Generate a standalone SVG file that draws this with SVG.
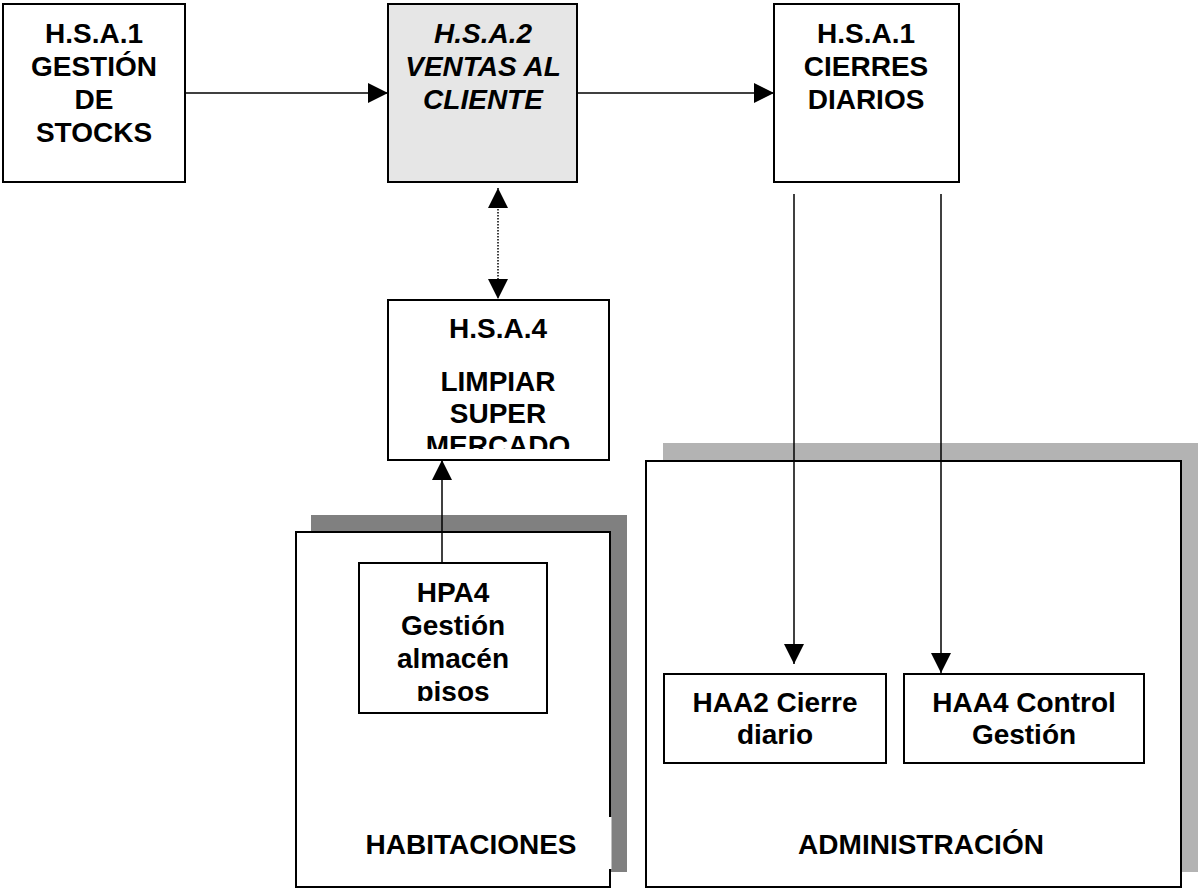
<svg xmlns="http://www.w3.org/2000/svg" width="1198" height="890" viewBox="0 0 1198 890">
<style>
.box{fill:#fff;stroke:#000;stroke-width:2}
.t{font-family:"Liberation Sans",Arial,sans-serif;font-weight:bold;font-size:28px;fill:#000;text-anchor:middle}
.it{font-style:italic}
.ln{stroke:#000;stroke-width:1.5;fill:none}
.dot{stroke:#000;stroke-width:1.5;fill:none;stroke-dasharray:1.5,1.5}
</style>
<defs>
<marker id="ah" viewBox="0 0 20 20" refX="20" refY="10" markerWidth="20" markerHeight="20" markerUnits="userSpaceOnUse" orient="auto-start-reverse">
<path d="M0,0 L20,10 L0,20 z" fill="#000"/>
</marker>
<clipPath id="c4"><rect x="389" y="301" width="219" height="148"/></clipPath>
<clipPath id="cp"><rect x="360" y="564" width="186" height="137"/></clipPath>
</defs>
<rect width="1198" height="890" fill="#fff"/>

<g id="habitaciones">
<rect x="311" y="515" width="316" height="357" fill="#808080"/>
<rect class="box" x="296" y="532" width="314" height="355"/>
<rect x="350" y="817" width="261.5" height="52" fill="#fff"/>
<text class="t" x="471" y="854">HABITACIONES</text>
</g>

<g id="administracion">
<rect x="663" y="443" width="535" height="429" fill="#b3b3b3"/>
<rect class="box" x="646" y="461" width="535" height="426"/>
<text class="t" x="921" y="854">ADMINISTRACIÓN</text>
</g>

<g id="hsa1-stocks">
<rect class="box" x="3" y="4" width="182" height="178"/>
<text class="t" x="94" y="43">H.S.A.1</text>
<text class="t" x="94" y="76">GESTIÓN</text>
<text class="t" x="94" y="109">DE</text>
<text class="t" x="94" y="142">STOCKS</text>
</g>

<g id="hsa2-ventas">
<rect class="box" x="388" y="4" width="189" height="178" style="fill:#e6e6e6"/>
<text class="t it" x="483" y="43">H.S.A.2</text>
<text class="t it" x="483" y="76">VENTAS AL</text>
<text class="t it" x="483" y="109">CLIENTE</text>
</g>

<g id="hsa1-cierres">
<rect class="box" x="774" y="4" width="185" height="178"/>
<text class="t" x="866" y="43">H.S.A.1</text>
<text class="t" x="866" y="76">CIERRES</text>
<text class="t" x="866" y="109">DIARIOS</text>
</g>

<g id="hsa4-limpiar">
<rect class="box" x="388" y="300" width="221" height="160"/>
<g clip-path="url(#c4)">
<text class="t" x="498" y="338">H.S.A.4</text>
<text class="t" x="498" y="391">LIMPIAR</text>
<text class="t" x="498" y="423">SUPER</text>
<text class="t" x="498" y="455">MERCADO</text>
</g>
</g>

<g id="hpa4">
<rect class="box" x="359" y="563" width="188" height="150"/>
<g clip-path="url(#cp)">
<text class="t" x="453" y="602">HPA4</text>
<text class="t" x="453" y="635">Gestión</text>
<text class="t" x="453" y="668">almacén</text>
<text class="t" x="453" y="701">pisos</text>
</g>
</g>

<g id="haa2">
<rect class="box" x="664" y="674" width="222" height="89"/>
<text class="t" x="775" y="712">HAA2 Cierre</text>
<text class="t" x="775" y="744">diario</text>
</g>

<g id="haa4">
<rect class="box" x="904" y="674" width="240" height="89"/>
<text class="t" x="1024" y="712">HAA4 Control</text>
<text class="t" x="1024" y="744">Gestión</text>
</g>

<g id="connectors">
<line class="ln" x1="185" y1="93" x2="388" y2="93" marker-end="url(#ah)"/>
<line class="ln" x1="577" y1="93" x2="774" y2="93" marker-end="url(#ah)"/>
<line class="dot" x1="498" y1="188" x2="498" y2="299" marker-start="url(#ah)" marker-end="url(#ah)"/>
<line class="ln" x1="442" y1="563" x2="442" y2="460" marker-end="url(#ah)"/>
<line class="ln" x1="794" y1="194" x2="794" y2="664" marker-end="url(#ah)"/>
<line class="ln" x1="941" y1="194" x2="941" y2="673" marker-end="url(#ah)"/>
</g>
</svg>
